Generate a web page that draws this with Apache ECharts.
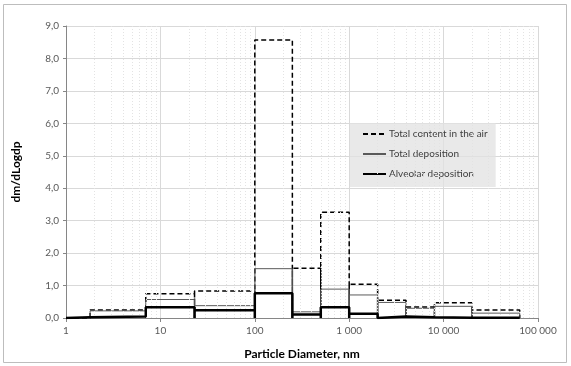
<!DOCTYPE html>
<html><head><meta charset="utf-8">
<script src="https://cdn.jsdelivr.net/npm/echarts@6/dist/echarts.min.js"></script>
<style>html,body{margin:0;padding:0;background:#fff}#c{width:571px;height:366px}</style>
</head><body><div id="c"></div>
<script>
// Bin edges (nm) and dm/dLogdp values per bin
const binEdges = [1, 1.8, 7, 23, 100, 250, 500, 1000, 2000, 4000, 8000, 20000, 64000];
const totalAir = [0, 0.25, 0.75, 0.83, 8.57, 1.53, 3.26, 1.04, 0.55, 0.34, 0.47, 0.25];
const totalDeposition = [0.02, 0.22, 0.57, 0.38, 1.52, 0.19, 0.89, 0.71, 0.48, 0.30, 0.36, 0.15];
const alveolarDeposition = [0.02, 0.05, 0.33, 0.24, 0.76, 0.11, 0.33, 0.13, 0.05, 0.02, 0.01, 0.01];
const seriesNames = ['Total content in the air', 'Total deposition', 'Alveolar deposition'];
const xTickLabels = {1: '1', 10: '10', 100: '100', 1000: '1 000', 10000: '10 000', 100000: '100 000'};

function steps(vals) {
  const out = [];
  for (let i = 0; i < vals.length; i++) {
    out.push([binEdges[i], 0], [binEdges[i], vals[i]], [binEdges[i + 1], vals[i]], [binEdges[i + 1], 0]);
  }
  return out;
}
const minorGrid = [];
for (let d = 1; d <= 10000; d *= 10) for (let m = 2; m <= 9; m++) minorGrid.push({xAxis: m * d});

const FONT = 'Lato, "Open Sans", sans-serif';
const chart = echarts.init(document.getElementById('c'), null, {renderer: 'canvas'});
chart.setOption({
  animation: false,
  backgroundColor: '#fff',
  textStyle: {fontFamily: FONT},
  graphic: [{type: 'rect', shape: {x: 3.5, y: 4.5, width: 563, height: 358}, style: {fill: 'none', stroke: '#bdbdbd', lineWidth: 1}, z: -1}],
  grid: {left: 66, right: 33, top: 26, bottom: 48},
  legend: {
    data: seriesNames, orient: 'vertical', left: 350, top: 123,
    itemWidth: 23, itemHeight: 12, itemGap: 10,
    padding: [6, 8, 8, 12], backgroundColor: 'rgba(225,225,225,0.75)',
    itemStyle: {opacity: 0},
    textStyle: {fontFamily: FONT, fontSize: 10, color: '#404040', padding: [0, 0, 0, -2]}
  },
  xAxis: {
    type: 'log', logBase: 10, min: 1, max: 100000,
    name: 'Particle Diameter, nm', nameLocation: 'middle', nameGap: 30,
    nameTextStyle: {fontFamily: FONT, fontSize: 12, fontWeight: 'bold', color: '#000'},
    axisLine: {lineStyle: {color: '#868686'}},
    axisTick: {show: true, length: 4, lineStyle: {color: '#868686'}},
    axisLabel: {fontSize: 10, color: '#595959', margin: 8, formatter: v => xTickLabels[Math.round(v)] || ''},
    splitLine: {show: true, lineStyle: {color: '#d9d9d9'}}
  },
  yAxis: {
    type: 'value', min: 0, max: 9, interval: 1,
    name: 'dm/dLogdp', nameLocation: 'middle', nameGap: 44,
    nameTextStyle: {fontFamily: FONT, fontSize: 12, fontWeight: 'bold', color: '#000'},
    axisLine: {show: true, lineStyle: {color: '#868686'}},
    axisTick: {show: true, length: 3, lineStyle: {color: '#868686'}},
    axisLabel: {fontSize: 10, color: '#595959', margin: 7, formatter: v => v.toFixed(1).replace('.', ',')},
    splitLine: {show: true, lineStyle: {color: '#d9d9d9'}}
  },
  series: [
    {type: 'line', data: [], z: 1, silent: true,
     markLine: {silent: true, symbol: ['none', 'none'], label: {show: false},
       lineStyle: {color: '#e3e3e3', type: [1, 2], width: 1}, data: minorGrid}},
    {name: seriesNames[0], type: 'line', data: steps(totalAir), symbol: 'none', z: 3,
     lineStyle: {color: '#000', width: 1.5, type: [5, 3]}, itemStyle: {color: '#000'}},
    {name: seriesNames[1], type: 'line', data: steps(totalDeposition), symbol: 'none', z: 4,
     lineStyle: {color: '#5a5a5a', width: 1}, itemStyle: {color: '#5a5a5a'}},
    {name: seriesNames[2], type: 'line', data: steps(alveolarDeposition), symbol: 'none', z: 5,
     lineStyle: {color: '#000', width: 2.5}, itemStyle: {color: '#000'}}
  ]
});
</script></body></html>
